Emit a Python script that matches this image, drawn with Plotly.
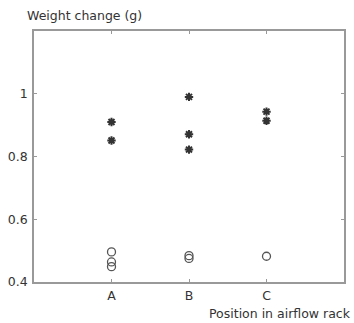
import plotly.graph_objects as go

# Rack positions and their numeric slots on the x axis
positions = ["A", "B", "C"]
slots = [1, 2, 3]

# Weight change (g) per sample, grouped by rack position
upper_pos = ["A", "A", "B", "B", "B", "C", "C"]
upper_vals = [0.91, 0.851, 0.99, 0.871, 0.822, 0.943, 0.914]

lower_pos = ["A", "A", "A", "B", "B", "C"]
lower_vals = [0.496, 0.464, 0.449, 0.484, 0.475, 0.482]

y_ticks = [0.4, 0.6, 0.8, 1.0]
y_tick_text = ["0.4", "0.6", "0.8", "1"]

slot_of = dict(zip(positions, slots))
FONT = "DejaVu Sans, Arial, sans-serif"

fig = go.Figure()
fig.add_trace(go.Scatter(
    x=[slot_of[p] for p in upper_pos], y=upper_vals, mode="markers",
    marker=dict(symbol="asterisk-open", size=7, color="#333333",
                line=dict(width=2, color="#333333")),
    showlegend=False,
))
fig.add_trace(go.Scatter(
    x=[slot_of[p] for p in lower_pos], y=lower_vals, mode="markers",
    marker=dict(symbol="circle-open", size=8, color="#555555",
                line=dict(width=1.3, color="#555555")),
    showlegend=False,
))

axis_common = dict(
    showline=True, linecolor="#999999", linewidth=1.5, mirror="ticks",
    ticks="inside", ticklen=3, tickcolor="#999999", tickwidth=1,
    showgrid=False, zeroline=False,
    tickfont=dict(family=FONT, size=12.5, color="#333333"),
)

fig.update_xaxes(range=[0, 4], tickvals=slots, ticktext=positions,
                 ticklabelstandoff=1, **axis_common)
fig.update_yaxes(range=[0.4, 1.2], tickvals=y_ticks, ticktext=y_tick_text,
                 ticklabelstandoff=2, **axis_common)

fig.update_layout(
    width=354, height=323,
    margin=dict(l=33, r=8, t=31, b=41),
    paper_bgcolor="white", plot_bgcolor="white",
    font=dict(family=FONT, size=12.5, color="#333333"),
    annotations=[
        dict(text="Weight change (g)", xref="paper", yref="paper",
             x=-0.03, y=1.06, xanchor="left", yanchor="middle",
             showarrow=False, font=dict(size=12.5, color="#333333")),
        dict(text="Position in airflow rack", xref="paper", yref="paper",
             x=1.03, y=-0.125, xanchor="right", yanchor="middle",
             showarrow=False, font=dict(size=12.5, color="#333333")),
    ],
)

fig.write_html("out.html")
